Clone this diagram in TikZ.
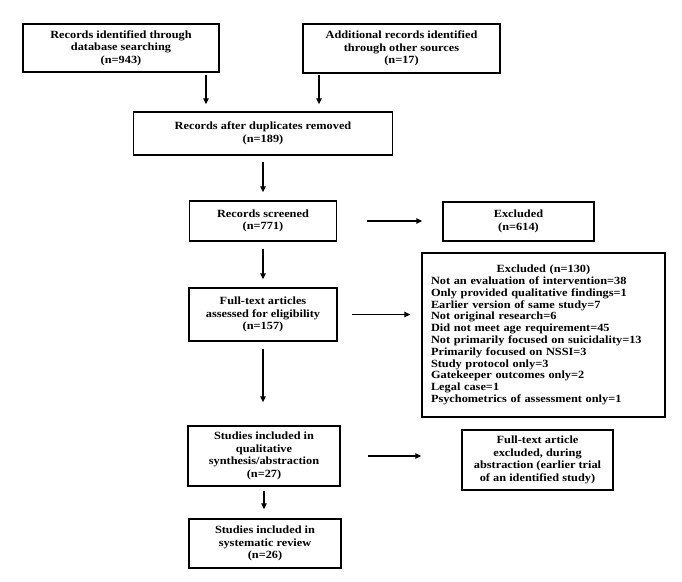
\documentclass[tikz,border=0pt]{standalone}
\usepackage{fontspec}
\setmainfont{Liberation Serif}[FakeStretch=1.12]
\usetikzlibrary{arrows.meta}
\begin{document}
\begin{tikzpicture}[x=1pt,y=-1pt,
  every node/.style={font=\bfseries\fontsize{11pt}{12.5pt}\selectfont},
  box/.style={draw, line width=1.5pt, align=center, inner sep=0pt},
  arr/.style={line width=1.5pt, -{Triangle[length=6pt,width=5.5pt]}}]
\useasboundingbox (0,0) rectangle (682,581);
\fill[white] (0,0) rectangle (682,581);
\node[box, minimum width=196pt, minimum height=48pt] (b1) at (121,48)
  {Records identified through\\database searching\\(n=943)};
\node[box, minimum width=197pt, minimum height=49pt] (b2) at (401.5,48.5)
  {Additional records identified\\through other sources\\(n=17)};
\node[box, minimum width=259pt, minimum height=43pt] (b3) at (263,133.5)
  {Records after duplicates removed\\(n=189)};
\node[box, minimum width=147pt, minimum height=40pt] (b4) at (263,221)
  {Records screened\\(n=771)};
\node[box, minimum width=151pt, minimum height=39pt] (b5) at (518.5,221.5)
  {Excluded\\(n=614)};
\node[box, minimum width=148pt, minimum height=53pt] (b6) at (263,314.5)
  {Full-text articles\\assessed for eligibility\\(n=157)};
\node[box, minimum width=243pt, minimum height=164pt, text width=225pt, align=left,
  font=\bfseries\fontsize{11pt}{11.8pt}\selectfont] (b7) at (543.5,335)
  {\makebox[\linewidth]{Excluded (n=130)}\\
   Not an evaluation of intervention=38\\
   Only provided qualitative findings=1\\
   Earlier version of same study=7\\
   Not original research=6\\
   Did not meet age requirement=45\\
   Not primarily focused on suicidality=13\\
   Primarily focused on NSSI=3\\
   Study protocol only=3\\
   Gatekeeper outcomes only=2\\
   Legal case=1\\
   Psychometrics of assessment only=1};
\node[box, minimum width=152pt, minimum height=60pt] (b8) at (264,456)
  {Studies included in\\qualitative\\synthesis/abstraction\\(n=27)};
\node[box, minimum width=151pt, minimum height=60pt] (b9) at (537.5,460)
  {Full-text article\\excluded, during\\abstraction (earlier trial\\of an identified study)};
\node[box, minimum width=152pt, minimum height=49pt] (b10) at (265,543.5)
  {Studies included in\\systematic review\\(n=26)};
\draw[arr, shorten <=2pt, shorten >=7pt] ([xshift=85pt]b1.south) -- ([xshift=85pt]b1.south |- b3.north);
\draw[arr, shorten <=1pt, shorten >=7pt] ([xshift=-82.5pt]b2.south) -- ([xshift=-82.5pt]b2.south |- b3.north);
\draw[arr, shorten <=6pt, shorten >=8pt] (b3.south) -- (b3.south |- b4.north);
\draw[arr, shorten <=30pt, shorten >=20pt] (b4.east) -- (b4.east -| b5.west);
\draw[arr, shorten <=7pt, shorten >=8pt] (b4.south) -- (b4.south |- b6.north);
\draw[arr, shorten <=14pt, shorten >=11pt] (b6.east) -- (b6.east -| b7.west);
\draw[arr, shorten <=7pt, shorten >=23pt] (b6.south) -- (b6.south |- b8.north);
\draw[arr, shorten <=27pt, shorten >=40pt] (b8.east) -- (b8.east -| b9.west);
\draw[arr, shorten <=4pt, shorten >=9pt] (b8.south) -- (b8.south |- b10.north);
\end{tikzpicture}
\end{document}
